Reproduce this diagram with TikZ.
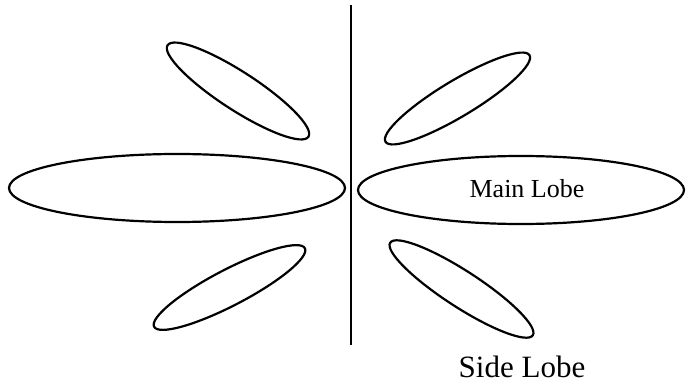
\documentclass[tikz,border=0pt]{standalone}
\usepackage{fontspec}
\setmainfont{Liberation Serif}
\usetikzlibrary{shapes.geometric}
\tikzset{lobe/.style={draw,ellipse,line width=1.1pt,inner sep=0pt,outer sep=0pt}}

\begin{document}
\begin{tikzpicture}[x=0.5pt,y=-0.5pt]
\useasboundingbox (0,0) rectangle (686,385);
\coordinate (axtop) at (351,5); \coordinate (axbot) at (351,345);
\draw[line width=1.1pt] (axtop) -- (axbot);
\node[lobe,minimum width=168pt,minimum height=34pt] (mainL) at (177,188){};
\node[lobe,minimum width=163pt,minimum height=34pt] (mainR) at (521,190){};
\node[lobe,minimum width=84pt,minimum height=19pt,rotate=-33] (sideUL) at (238,91){};
\node[lobe,minimum width=84pt,minimum height=18pt,rotate=31] (sideUR) at (457.5,98.5){};
\node[lobe,minimum width=85pt,minimum height=18pt,rotate=27.5] (sideLL) at (229.5,287.5){};
\node[lobe,minimum width=85pt,minimum height=18pt,rotate=-33] (sideLR) at (461.5,289){};
\node[anchor=base,font=\fontsize{13}{15}\selectfont] (mainlbl) at (527,197.5){Main Lobe};
\node[anchor=base,font=\fontsize{15.5}{18}\selectfont] (sidelbl) at (522,377){Side Lobe};
\end{tikzpicture}
\end{document}
